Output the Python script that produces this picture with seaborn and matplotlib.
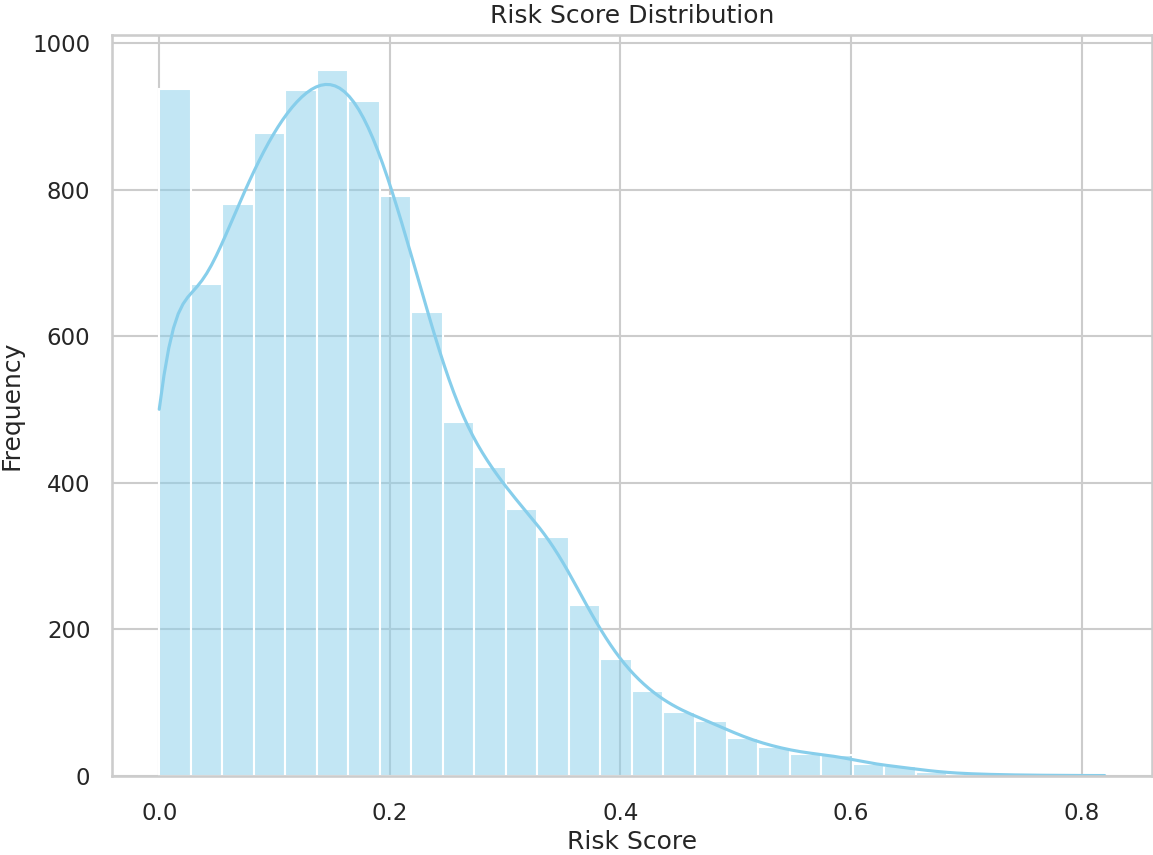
import numpy as np
import pandas as pd
import matplotlib
matplotlib.use("Agg")
import matplotlib.pyplot as plt
import seaborn as sns

# Histogram counts (30 equal bins over 0 .. 0.82)
bin_low = 0.0
bin_high = 0.82
counts = [938, 671, 781, 877, 936, 963, 921, 791, 633, 483,
          422, 364, 326, 234, 159, 116, 88, 75, 52, 40,
          30, 29, 16, 13, 6, 3, 2, 1, 1, 1]
# Part of the first bin that sits exactly at 0 (clipped scores), judged from the KDE start
zero_count = 380
x_ticks = [0.0, 0.2, 0.4, 0.6, 0.8]
y_ticks = [0, 200, 400, 600, 800, 1000]
title = "Risk Score Distribution"
x_label = "Risk Score"
y_label = "Frequency"

# Rebuild a sample consistent with the binned counts (values spread evenly inside each bin)
edges = np.linspace(bin_low, bin_high, len(counts) + 1)
samples = [np.full(zero_count, bin_low)]
last = len(counts) - 1
for i, c in enumerate(counts):
    lo, hi = edges[i], edges[i + 1]
    n = c - zero_count if i == 0 else c
    if i == last:
        samples.append(np.linspace(lo, hi, n + 1)[1:])
    else:
        step = (hi - lo) / n
        samples.append(lo + step * (np.arange(n) + 0.5))
values = np.concatenate(samples)
df = pd.DataFrame({"Risk Score": values})

sns.set_theme(style="whitegrid", context="talk")
fig, ax = plt.subplots(figsize=(11.53, 8.55), dpi=100)
fig.subplots_adjust(left=0.0971, right=0.9991, top=0.959, bottom=0.0924)

sns.histplot(data=df, x="Risk Score", bins=len(counts), binrange=(bin_low, bin_high),
             kde=True, color="skyblue", alpha=0.5, ax=ax,
             line_kws={"linewidth": 2.25})

ax.set_xticks(x_ticks)
ax.set_yticks(y_ticks)
ax.tick_params(axis="x", pad=9.5)
ax.tick_params(axis="y", pad=6.5)
ax.set_title(title, pad=9)
ax.set_xlabel(x_label)
ax.set_ylabel(y_label, labelpad=6.5)

fig.savefig("out.png", dpi=100)
